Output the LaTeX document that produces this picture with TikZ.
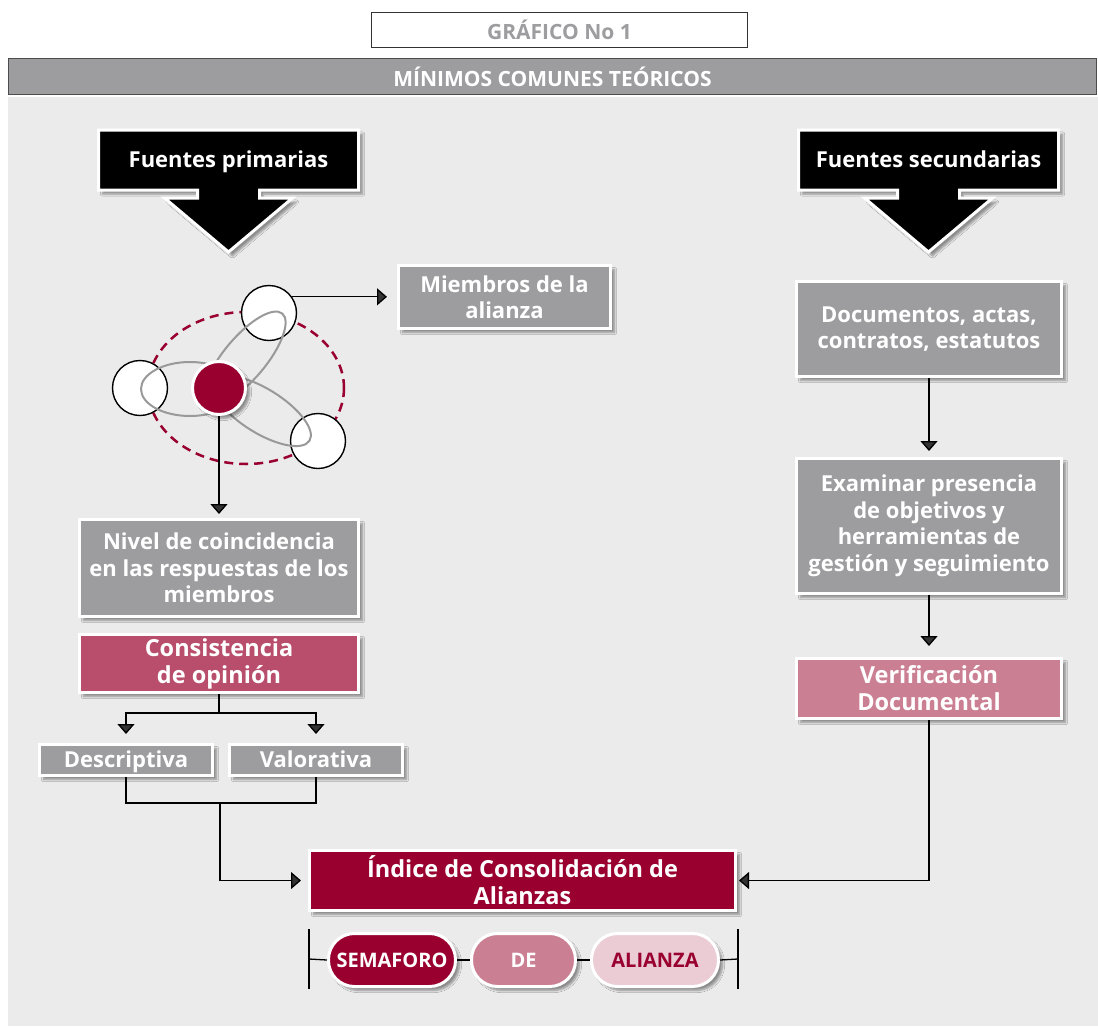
\documentclass[tikz,border=0pt]{standalone}
\usepackage{fontspec}
\setmainfont{Open Sans}
\usetikzlibrary{calc,arrows.meta,shadows.blur,shapes.geometric}
\definecolor{fondo}{HTML}{EBEBEB}
\definecolor{grisbox}{HTML}{9D9D9F}
\definecolor{carmin}{HTML}{99002F}
\definecolor{rosaos}{HTML}{B84E6B}
\definecolor{rosa}{HTML}{CB7F93}
\definecolor{rosapal}{HTML}{EBCBD4}
\def\fuentearrow(#1){\draw[fuentebg, shift={(#1)}] (-130,-30) -- (130,-30) -- (130,30) -- (31,30) -- (31,38) -- (64,38) -- (0,92) -- (-64,38) -- (-31,38) -- (-31,30) -- (-130,30) -- cycle;}
\tikzset{
	sombra/.style={blur shadow={shadow xshift=4pt, shadow yshift=-4pt, shadow blur steps=6, shadow opacity=40}},
	caja/.style={rectangle, fill=grisbox, draw=white, line width=3pt, text=white, inner sep=0pt, align=center, font=\bfseries\fontsize{22}{26.5}\selectfont, sombra},
	cajacolor/.style={caja, fill=#1, font=\bfseries\fontsize{23.5}{27}\selectfont},
	linea1/.style={text height=16pt, text depth=2pt},
	pastilla/.style={caja, rounded corners=26pt, minimum width=#1, minimum height=53, font=\bfseries\fontsize{20}{24}\selectfont},
	fuentebg/.style={fill=black, draw=white, line width=3pt, line join=miter, sombra},
	fuentetxt/.style={text=white, linea1, font=\bfseries\fontsize{22}{26}\selectfont},
	cabecera/.style={minimum height=#1, font=\bfseries\fontsize{21}{24}\selectfont},
	nodo/.style={circle, fill=white, draw=black, line width=1.4pt, minimum size=55, inner sep=0pt},
	lazo/.style={ellipse, draw=black!40, line width=2pt, inner sep=0pt},
	linea/.style={line width=1.3pt},
	flecha/.style={linea, -{Triangle[width=17pt,length=10pt]}, shorten >=#1},
	flecha/.default=6pt
}

\begin{document}
\begin{tikzpicture}[x=1pt, y=-1pt]
		%%%%% START %%%%%
		\useasboundingbox (0,0) rectangle (1098,1026);
		\fill[fondo] (8,97) rectangle (1098,1026);

		\node[cabecera=35, draw=black!80, line width=0.8pt, fill=white, minimum width=376, text=grisbox] (tit) at (559.5,30) {GRÁFICO No 1};
		\node[cabecera=36, fill=grisbox, draw=black!70, line width=1pt, minimum width=1088, text=white] (ban) at (552.5,76.5) {MÍNIMOS COMUNES TEÓRICOS};

		% fuentes
		\coordinate (fpc) at (228.5,160);
		\coordinate (fsc) at (928.5,160);
		\fuentearrow(fpc)
		\fuentearrow(fsc)
		\node[fuentetxt] (fp) at (fpc) {Fuentes primarias};
		\node[fuentetxt] (fs) at (fsc) {Fuentes secundarias};

		% red de miembros
		\draw[carmin, line width=2.5pt, dash pattern=on 9pt off 6pt] (246,388) ellipse [x radius=98, y radius=76];
		\node[nodo] (top) at (269,313) {};
		\node[nodo] (izq) at (140,388) {};
		\node[nodo] (der) at (318,441) {};
		\node[lazo, minimum width=98, minimum height=54] (lz1) at (190,389) {};
		\node[lazo, minimum width=116, minimum height=42, rotate=50] (lz2) at (245,358) {};
		\node[lazo, minimum width=112, minimum height=44, rotate=-32] (lz3) at (262,411) {};
		\node[circle, fill=carmin, draw=white, line width=3pt, minimum size=53, inner sep=0pt, sombra] (rojo) at (219,388) {};

		\node[caja, minimum width=212, minimum height=63] (mie) at (504.5,297) {Miembros de la\\alianza};
		\draw[flecha=10pt] (top.35) -- (top.35 -| mie.west);

		% columna izquierda
		\node[caja, minimum width=279, minimum height=97] (niv) at (219,568) {Nivel de coincidencia\\en las respuestas de los\\miembros};
		\node[cajacolor=rosaos, minimum width=279, minimum height=58] (con) at (219,663.5) {Consistencia\\de opinión};
		\node[caja, linea1, minimum width=173, minimum height=31] (des) at (126,760) {Descriptiva};
		\node[caja, linea1, minimum width=173, minimum height=31] (val) at (316,760) {Valorativa};
		\draw[flecha=4pt] (rojo.south) -- (niv.north);
		\draw[flecha=9pt] (con.south) -- ++(0,19) -| (des.north);
		\draw[flecha=9pt] (con.south) -- ++(0,19) -| (val.north);
		\coordinate (junta) at (220,803);
		\draw[linea] (des.south) |- (junta) -| (val.south);

		% columna derecha
		\node[caja, minimum width=265, minimum height=95] (doc) at (929,329) {Documentos, actas,\\contratos, estatutos};
		\node[caja, minimum width=265, minimum height=135] (exa) at (929,526) {Examinar presencia\\de objetivos y\\herramientas de\\gestión y seguimiento};
		\node[cajacolor=rosa, minimum width=265, minimum height=60] (ver) at (929,688.5) {Verificación\\Documental};
		\draw[flecha] (doc.south) -- (exa.north);
		\draw[flecha=11pt] (exa.south) -- (ver.north);

		% indice
		\node[cajacolor=carmin, minimum width=426, minimum height=60] (ind) at (522.5,880.5) {Índice de Consolidación de\\Alianzas};
		\draw[flecha=7pt] (junta) |- (ind.west);
		\draw[flecha=2pt] (ver.south) |- (ind.east);

		% semaforo
		\coordinate (barL) at (309,959);
		\coordinate (barR) at (738,959);
		\draw[linea] ($(barL)+(0,-30)$) -- ($(barL)+(0,30)$);
		\draw[linea] ($(barR)+(0,-30)$) -- ($(barR)+(0,30)$);
		\node[pastilla=127, fill=carmin] (sem) at (392,960) {SEMAFORO};
		\node[pastilla=104, fill=rosa] (de) at (523.5,960) {DE};
		\node[pastilla=127, fill=rosapal, text=carmin] (ali) at (655,960) {ALIANZA};
		\draw[linea] (barL) -- (sem.west);
		\draw[linea] (sem.east) -- (de.west);
		\draw[linea] (de.east) -- (ali.west);
		\draw[linea] (ali.east) -- (barR);
		%%%%% END %%%%%
\end{tikzpicture}
\end{document}
